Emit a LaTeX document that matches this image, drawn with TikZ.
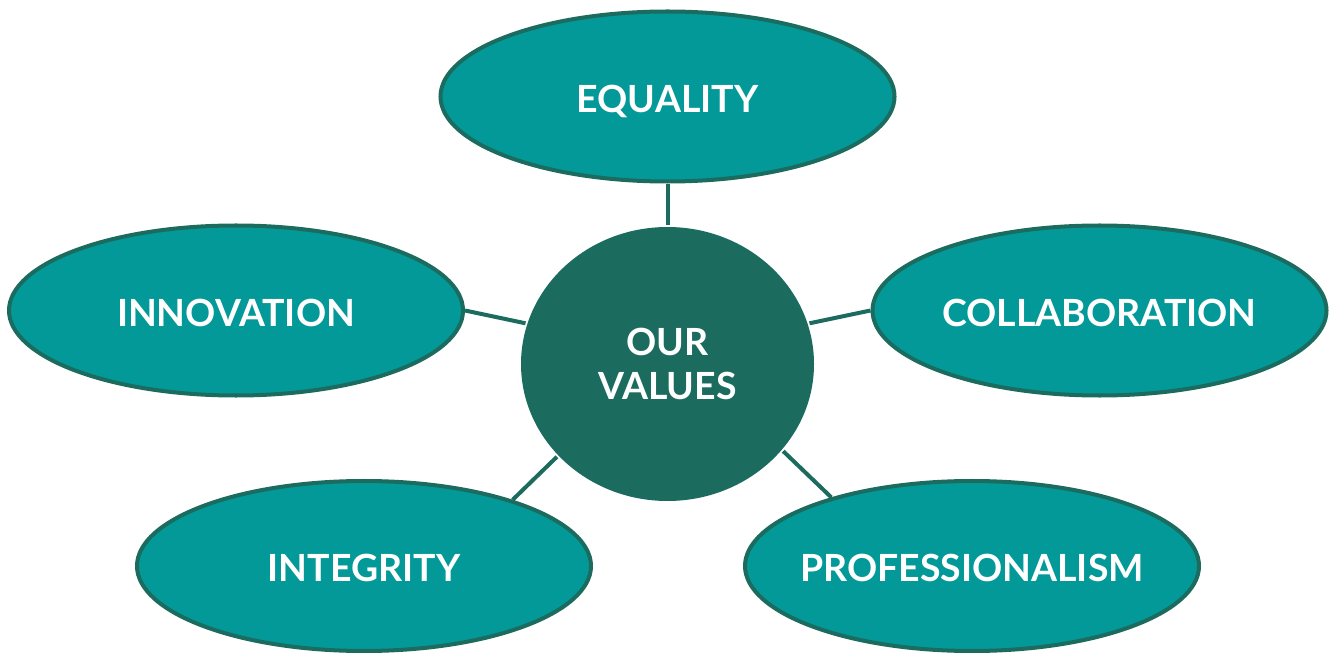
\documentclass[tikz,border=0pt]{standalone}
\usepackage{fontspec}
\setmainfont{Lato}
\usepackage{tikz}
\usetikzlibrary{shapes.geometric, backgrounds}
\definecolor{valc}{HTML}{1B6B5F}
\definecolor{tealc}{HTML}{039999}

\begin{document}
\begin{tikzpicture}[line width=2.28pt,
    value/.style={ellipse, draw=valc, fill=tealc, inner xsep=-3cm,
      inner ysep=0pt, minimum width=9.08cm, minimum height=3.4cm,
      text=white, text height=17.7pt, text depth=0pt,
      font=\fontsize{21.3}{25}\selectfont\bfseries},
    link/.style={draw=valc, line width=2.28pt}]
    \useasboundingbox (0,0) rectangle (26.64,13.04);
    \node[ellipse, fill=valc, inner sep=0pt, minimum width=5.86cm,
      minimum height=5.48cm, text=white, align=center,
      font=\fontsize{21.3}{25}\selectfont\bfseries]
      (values) at (13.35,5.76) {OUR\\VALUES};
    \node[value] (equality) at (13.35,11.11) {EQUALITY};
    \node[value] (innovation) at (4.72,6.83) {INNOVATION};
    \node[value] (collab) at (21.99,6.83) {COLLABORATION};
    \node[value] (integrity) at (7.28,1.72) {INTEGRITY};
    \node[value] (prof) at (19.44,1.72) {PROFESSIONALISM};
    \begin{scope}[on background layer]
      \draw[link] (equality) -- (values);
      \draw[link] (innovation.east) -- (values.164);
      \draw[link] (collab.west) -- (values.16);
      \draw[link] (integrity.24.5) -- (values.220.5);
      \draw[link] (prof.154) -- (values.-37.7);
    \end{scope}
  \end{tikzpicture}
\end{document}
